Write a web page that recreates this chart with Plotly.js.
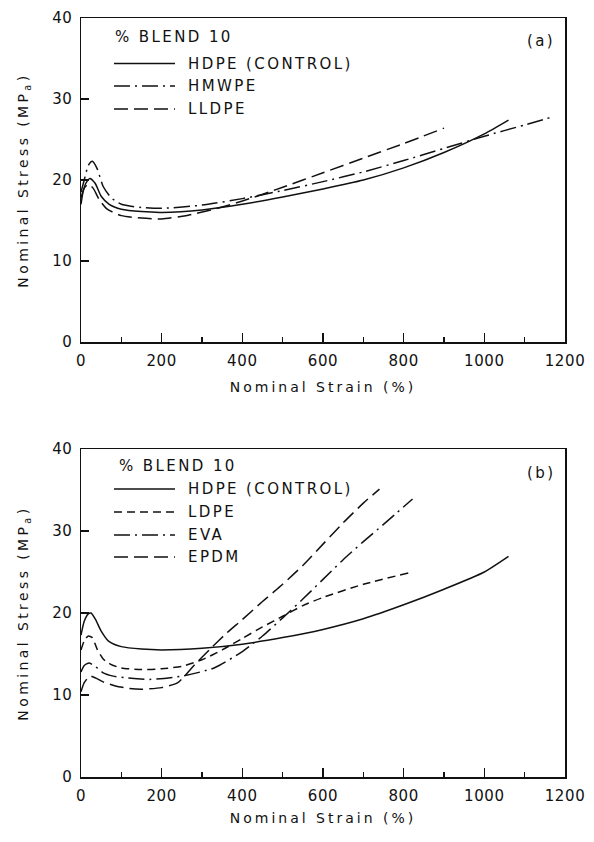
<!DOCTYPE html>
<html>
<head>
<meta charset="utf-8">
<script src="https://cdn.plot.ly/plotly-3.0.1.min.js"></script>
<style>
html,body{margin:0;padding:0;background:#fff;}
#chart{width:594px;height:842px;}
.annotation-text{letter-spacing:2.4px;}
.xtitle,.x2title{letter-spacing:3px;}
.ytitle,.y2title{letter-spacing:3.4px;}
.xtick text,.x2tick text,.ytick text,.y2tick text{letter-spacing:0.6px;}
</style>
</head>
<body>
<div id="chart"></div>
<script>
// ---------- Panel (a) data ----------
const a_hdpe_strain  = [0, 5, 12, 22, 35, 50, 70, 100, 150, 200, 300, 400, 500, 600, 700, 800, 900, 1000, 1060];
const a_hdpe_stress  = [17.0, 18.5, 19.6, 20.2, 19.6, 18.0, 17.0, 16.4, 16.1, 16.0, 16.3, 17.0, 17.9, 18.9, 20.0, 21.5, 23.4, 25.7, 27.4];
const a_hmwpe_strain = [0, 8, 18, 28, 40, 55, 75, 100, 150, 200, 300, 400, 500, 600, 700, 800, 900, 1000, 1100, 1170];
const a_hmwpe_stress = [18.5, 20.0, 21.8, 22.3, 21.4, 19.2, 17.8, 17.0, 16.6, 16.5, 16.9, 17.7, 18.7, 19.8, 21.0, 22.4, 23.9, 25.4, 26.8, 27.8];
const a_lldpe_strain = [0, 8, 18, 30, 45, 65, 100, 150, 200, 260, 330, 400, 500, 600, 700, 800, 900];
const a_lldpe_stress = [17.8, 19.0, 19.5, 19.0, 17.6, 16.4, 15.6, 15.3, 15.2, 15.6, 16.4, 17.4, 19.1, 20.9, 22.7, 24.5, 26.4];

// ---------- Panel (b) data ----------
const b_hdpe_strain = [0, 8, 18, 25, 35, 50, 70, 100, 150, 200, 300, 400, 500, 600, 700, 800, 900, 1000, 1060];
const b_hdpe_stress = [17.3, 19.0, 19.9, 20.0, 19.3, 17.8, 16.5, 15.9, 15.6, 15.5, 15.7, 16.2, 17.0, 18.0, 19.3, 21.0, 22.9, 25.0, 26.9];
const b_ldpe_strain = [0, 8, 18, 28, 40, 55, 75, 100, 150, 200, 250, 300, 350, 400, 450, 500, 550, 600, 700, 813];
const b_ldpe_stress = [15.5, 16.6, 17.2, 17.0, 15.6, 14.4, 13.7, 13.3, 13.1, 13.2, 13.5, 14.3, 15.5, 16.9, 18.3, 19.6, 20.9, 21.9, 23.5, 24.9];
const b_eva_strain  = [0, 8, 20, 35, 55, 80, 110, 170, 250, 330, 400, 450, 500, 550, 600, 650, 700, 750, 822];
const b_eva_stress  = [12.8, 13.6, 13.9, 13.5, 12.7, 12.3, 12.1, 11.9, 12.3, 13.3, 15.3, 17.2, 19.4, 21.7, 24.1, 26.5, 28.7, 30.8, 33.9];
const b_epdm_strain = [0, 8, 22, 35, 55, 85, 120, 150, 200, 240, 280, 320, 360, 400, 450, 500, 550, 600, 650, 700, 740];
const b_epdm_stress = [10.4, 11.5, 12.3, 12.1, 11.6, 11.1, 10.8, 10.7, 10.9, 11.5, 13.6, 15.6, 17.5, 19.2, 21.4, 23.5, 25.8, 28.4, 31.0, 33.4, 35.1];

// ---------- Labels ----------
const legendTitle = '% BLEND 10';
const a_names = ['HDPE (CONTROL)', 'HMWPE', 'LLDPE'];
const b_names = ['HDPE (CONTROL)', 'LDPE', 'EVA', 'EPDM'];
const panelTags = ['(a)', '(b)'];
const xTitle = 'Nominal Strain (%)';
const yTitle = 'Nominal Stress (MP<sub>a</sub>)';
const xTickVals = [0, 200, 400, 600, 800, 1000, 1200];
const yTickVals = [0, 10, 20, 30, 40];

// ---------- Styles ----------
const DASH = {
  solid: 'solid',
  dashdot: '16px,5px,2px,5px',
  longdash: '14px,6px',
  shortdash: '8px,5px'
};
const a_dash = [DASH.solid, DASH.dashdot, DASH.longdash];
const b_dash = [DASH.solid, DASH.shortdash, DASH.dashdot, DASH.longdash];

const W = 594, H = 842;
const M = {l: 81, r: 29, t: 18, b: 65};
const plotW = W - M.l - M.r, plotH = H - M.t - M.b;
const px = X => (X - M.l) / plotW;
const py = Y => (H - M.b - Y) / plotH;

function mk(x, y, dash, xa, ya) {
  return {x: x, y: y, type: 'scatter', mode: 'lines', xaxis: xa, yaxis: ya,
    line: {color: '#111', width: 1.5, dash: dash, shape: 'spline', smoothing: 0.6},
    showlegend: false, hoverinfo: 'skip'};
}

const traces = [
  mk(a_hdpe_strain, a_hdpe_stress, a_dash[0], 'x', 'y'),
  mk(a_hmwpe_strain, a_hmwpe_stress, a_dash[1], 'x', 'y'),
  mk(a_lldpe_strain, a_lldpe_stress, a_dash[2], 'x', 'y'),
  mk(b_hdpe_strain, b_hdpe_stress, b_dash[0], 'x2', 'y2'),
  mk(b_ldpe_strain, b_ldpe_stress, b_dash[1], 'x2', 'y2'),
  mk(b_eva_strain, b_eva_stress, b_dash[2], 'x2', 'y2'),
  mk(b_epdm_strain, b_epdm_stress, b_dash[3], 'x2', 'y2')
];

function xax(anchor, standoff) {
  return {
    anchor: anchor, domain: [0, 1], range: [0, 1200], fixedrange: true,
    tickmode: 'array', tickvals: xTickVals, ticktext: xTickVals.map(String),
    ticks: 'inside', ticklen: 9, tickwidth: 1.2, tickcolor: '#111',
    minor: {ticks: 'inside', ticklen: 5, tickwidth: 1.2, tickcolor: '#111', dtick: 100, tick0: 0, showgrid: false},
    showline: true, mirror: true, linecolor: '#111', linewidth: 1.5,
    showgrid: false, zeroline: false, ticklabelstandoff: 4,
    tickfont: {size: 15, color: '#111'},
    title: {text: xTitle, font: {size: 14, color: '#111'}, standoff: standoff}
  };
}
function yax(anchor, dom) {
  return {
    anchor: anchor, domain: dom, range: [0, 40], fixedrange: true,
    tickmode: 'array', tickvals: yTickVals, ticktext: yTickVals.map(String),
    ticks: 'inside', ticklen: 8, tickwidth: 1.2, tickcolor: '#111',
    showline: true, mirror: true, linecolor: '#111', linewidth: 1.5,
    showgrid: false, zeroline: false, ticklabelstandoff: 4,
    tickfont: {size: 15, color: '#111'},
    title: {text: yTitle, font: {size: 14, color: '#111'}, standoff: 20}
  };
}

// Legend keys (drawn as shapes + annotations, as in the figure)
const shapes = [], annotations = [];
function legend(titleY, titleX, rowsY, names, dashes) {
  annotations.push({xref: 'paper', yref: 'paper', x: px(titleX), y: py(titleY), xanchor: 'left', yanchor: 'middle',
    text: legendTitle, showarrow: false, font: {size: 15, color: '#111'}});
  names.forEach((n, i) => {
    shapes.push({type: 'line', xref: 'paper', yref: 'paper', x0: px(114), x1: px(175), y0: py(rowsY[i]), y1: py(rowsY[i]),
      line: {color: '#111', width: 1.5, dash: dashes[i]}});
    annotations.push({xref: 'paper', yref: 'paper', x: px(186), y: py(rowsY[i]), xanchor: 'left', yanchor: 'middle',
      text: n, showarrow: false, font: {size: 15, color: '#111'}});
  });
}
legend(37, 113, [63.5, 86, 109], a_names, a_dash);
legend(466, 117, [489, 512, 535, 557], b_names, b_dash);
annotations.push({xref: 'paper', yref: 'paper', x: px(541), y: py(41), xanchor: 'center', yanchor: 'middle',
  text: panelTags[0], showarrow: false, font: {size: 15, color: '#111'}});
annotations.push({xref: 'paper', yref: 'paper', x: px(541), y: py(473), xanchor: 'center', yanchor: 'middle',
  text: panelTags[1], showarrow: false, font: {size: 15, color: '#111'}});

const layout = {
  width: W, height: H,
  margin: M,
  paper_bgcolor: '#fff', plot_bgcolor: '#fff',
  font: {family: 'DejaVu Sans, sans-serif', color: '#111'},
  showlegend: false,
  xaxis: xax('y', 13),
  yaxis: yax('x', [py(342), 1]),
  xaxis2: xax('y2', 9),
  yaxis2: yax('x2', [0, py(449)]),
  shapes: shapes,
  annotations: annotations
};

Plotly.newPlot('chart', traces, layout, {displayModeBar: false, staticPlot: true});
</script>
</body>
</html>
